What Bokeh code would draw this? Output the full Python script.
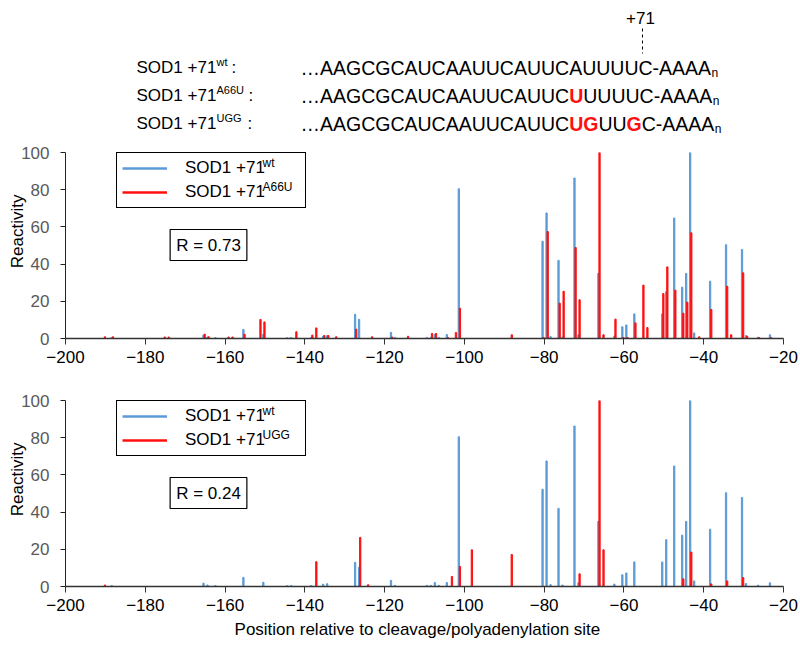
import numpy as np
from bokeh.plotting import figure
from bokeh.models import (Range1d, Label, ColumnDataSource, SingleIntervalTicker,
                          Legend, LegendItem)
from bokeh.layouts import column
from bokeh.core.properties import value
from bokeh.embed import file_html
from bokeh.resources import INLINE

FONT = "Liberation Sans"

# ---------------- data ----------------
wt_pos = [-188, -165, -164, -162, -155, -150, -144, -143, -138, -135, -134, -127, -126,
          -118, -117, -109, -108, -107, -106, -104, -101, -80, -79, -78, -76, -75, -72, -71,
          -66, -62, -60, -59, -57, -50, -49, -47, -45, -44, -43, -42, -38, -34, -30, -29, -26, -23]
wt_val = [0.5, 1.8, 0.8, 0.5, 4.9, 2.3, 0.5, 0.5, 0.5, 1.2, 1.5, 13.0, 10.3,
          3.3, 0.6, 0.6, 0.6, 2.1, 0.6, 2.1, 80.5, 52.3, 67.5, 1.0, 42.0, 0.8, 86.3, 2.0,
          35.0, 1.3, 6.3, 7.3, 13.2, 13.2, 25.2, 64.8, 27.6, 35.0, 100.0, 3.0, 30.8, 50.4, 47.9, 1.6, 0.7, 2.0]

a66u_pos = [-190, -188, -175, -174, -165, -164, -159, -158, -155, -151, -150, -142, -138, -137,
            -135, -134, -132, -127, -123, -118, -114, -108, -107, -104, -102, -101, -88, -80, -79,
            -76, -75, -72, -71, -66, -65, -62, -60, -59, -57, -55, -54, -50, -49, -47, -45, -44,
            -43, -41, -38, -34, -33, -30, -29, -26, -23]
a66u_val = [0.9, 0.9, 0.8, 0.8, 2.3, 0.9, 0.8, 0.8, 2.3, 10.2, 8.9, 3.6, 1.8, 5.7,
            1.6, 1.6, 0.9, 5.0, 0.9, 0.8, 1.2, 2.7, 2.7, 0.5, 3.2, 16.3, 2.0, 0.5, 57.5,
            19.0, 25.4, 48.9, 20.8, 100.0, 2.0, 10.4, 0.5, 0.5, 8.4, 28.7, 5.9, 24.2, 38.5, 26.0, 13.6, 19.5,
            56.8, 0.9, 15.6, 28.1, 2.0, 35.3, 1.2, 0.5, 0.5]

ugg_pos = [-190, -137, -126, -124, -103, -101, -98, -88, -71, -66, -65, -45, -43, -38, -34, -30]
ugg_val = [0.8, 13.3, 26.4, 0.9, 5.4, 10.8, 19.7, 17.2, 6.8, 100.0, 19.7, 4.1, 18.5, 1.4, 3.0, 4.8]

x_start, x_end, x_tick_step = -200, -20, 20
y_start, y_end, y_tick_step = 0, 100, 20

r_top = "R = 0.73"
r_bottom = "R = 0.24"
name_base = "SOD1 +71"
sup_wt, sup_a66u, sup_ugg = "wt", "A66U", "UGG"
x_title = "Position relative to cleavage/polyadenylation site"
y_title = "Reactivity"
site_label = "+71"

# sequences: list of (text, is_mutation)
seq_wt = [("AAGCGCAUCAAUUCAUUCAUUUUC-AAAA", False)]
seq_a66u = [("AAGCGCAUCAAUUCAUUC", False), ("U", True), ("UUUUC-AAAA", False)]
seq_ugg = [("AAGCGCAUCAAUUCAUUC", False), ("UG", True), ("UU", False), ("G", True), ("C-AAAA", False)]

BLUE = "#5B9BD5"
RED = "#FF1010"

W = 800
BL, BR = 65, 17          # left / right borders -> frame 65..783
FW = W - BL - BR         # 718

# ---------------- header ----------------
HH = 140
hdr = figure(width=W, height=HH, x_range=Range1d(BL, BL + FW), y_range=Range1d(HH, 0),
             output_backend="svg", toolbar_location=None,
             min_border_left=BL, min_border_right=BR, min_border_top=0, min_border_bottom=0,
             x_axis_location=None, y_axis_location=None)
hdr.grid.visible = False
hdr.outline_line_color = None

CW = {"A": 0.667, "C": 0.722, "G": 0.778, "U": 0.722, "-": 0.333, "\u2026": 1.0}
SEQ_FS = 19.5
rows_y = [67, 95, 123]
sups = [sup_wt, sup_a66u, sup_ugg]
colon_x = [231, 248, 247]
seqs = [seq_wt, seq_a66u, seq_ugg]

lab_x, lab_y, lab_t = [], [], []
sup_x, sup_y, sup_t = [], [], []
ch_x, ch_y, ch_t, ch_c, ch_s = [], [], [], [], []
sub_x, sub_y = [], []
for ry, sp, cx, sq in zip(rows_y, sups, colon_x, seqs):
    lab_x.append(136); lab_y.append(ry); lab_t.append(name_base)
    sup_x.append(216); sup_y.append(ry - 6); sup_t.append(sp)
    lab_x.append(cx); lab_y.append(ry); lab_t.append(":")
    x = 300.0
    chars = [("\u2026", False)] + [(c, m) for part, m in sq for c in part]
    for c, m in chars:
        ch_x.append(x); ch_y.append(ry); ch_t.append(c)
        ch_c.append(RED if m else "black"); ch_s.append("bold" if m else "normal")
        x += CW[c] * SEQ_FS
    sub_x.append(x + 0.5); sub_y.append(ry + 5)

hdr.text(x=lab_x, y=lab_y, text=lab_t, text_font=value(FONT), text_font_size="17px",
         text_baseline="middle", text_align="left", text_color="black")
hdr.text(x=sup_x, y=sup_y, text=sup_t, text_font=value(FONT), text_font_size="11px",
         text_baseline="middle", text_align="left", text_color="black")
src = ColumnDataSource(dict(x=ch_x, y=ch_y, t=ch_t, c=ch_c, s=ch_s))
hdr.text(x="x", y="y", text="t", text_color="c", text_font_style="s", source=src,
         text_font=value(FONT), text_font_size=f"{SEQ_FS}px", text_baseline="middle", text_align="left")
hdr.text(x=sub_x, y=sub_y, text=["n"] * 3, text_font=value(FONT), text_font_size="12px",
         text_baseline="middle", text_align="left", text_color="black")
hdr.text(x=[640], y=[17], text=[site_label], text_font=value(FONT), text_font_size="17px",
         text_baseline="middle", text_align="center", text_color="black")
hdr.segment(x0=[642], y0=[28], x1=[642], y1=[53], line_color="black",
            line_width=1, line_dash="3 3")

# ---------------- panels ----------------
FH = 186
XS = FW / (x_end - x_start)
YS = FH / (y_end - y_start)

def to_x(page_x):
    return x_start + (page_x - BL) / XS

def to_y(rel_y):  # rel_y: pixels below frame top
    return y_end - rel_y / YS

def panel(mut_pos, mut_val, sup_mut, r_text, btop, bbot, show_xtitle):
    p = figure(width=W, height=btop + FH + bbot, x_range=Range1d(x_start, x_end),
               y_range=Range1d(y_start, y_end), output_backend="svg", toolbar_location=None,
               min_border_left=BL, min_border_right=BR, min_border_top=btop, min_border_bottom=bbot)
    p.grid.visible = False
    p.outline_line_color = None

    p.vbar(x=np.array(wt_pos) - 0.4, top=wt_val, width=0.32, color=BLUE)
    p.vbar(x=np.array(mut_pos) - 0.12, top=mut_val, width=0.32, color=RED)

    p.xaxis.ticker = SingleIntervalTicker(interval=x_tick_step)
    p.yaxis.ticker = SingleIntervalTicker(interval=y_tick_step)
    for ax in (p.xaxis, p.yaxis):
        ax.major_label_text_font = FONT
        ax.major_label_text_font_size = "17px"
        ax.minor_tick_line_color = None
        ax.major_tick_in = 0
        ax.axis_label_text_font = FONT
        ax.axis_label_text_font_size = "17px"
        ax.axis_label_text_font_style = "normal"
        ax.axis_label_text_color = "black"
    p.xaxis.major_tick_out = 6
    p.xaxis.axis_line_color = "#333333"
    p.xaxis.axis_line_width = 1.5
    p.xaxis.major_tick_line_color = "#333333"
    p.xaxis.major_label_text_color = "black"
    p.xaxis.major_label_standoff = 6
    p.yaxis.major_tick_out = 5
    p.yaxis.axis_line_color = "#222222"
    p.yaxis.major_tick_line_color = "#222222"
    p.yaxis.major_label_text_color = "#595959"
    p.yaxis.major_label_standoff = 11
    p.yaxis.axis_label = "\u00a0" * 6 + y_title
    p.yaxis.axis_label_standoff = -9
    if show_xtitle:
        p.xaxis.axis_label = x_title + "\u00a0" * 3
        p.xaxis.axis_label_standoff = 6

    # legend (box top kept just inside the frame; transparent so superscripts show)
    r_b = p.line(x=[np.nan], y=[np.nan], line_color=BLUE, line_width=2.5)
    r_r = p.line(x=[np.nan], y=[np.nan], line_color=RED, line_width=2.5)
    leg = Legend(items=[LegendItem(label=name_base, renderers=[r_b]),
                        LegendItem(label=name_base, renderers=[r_r])],
                 location=(116 - BL, 130), orientation="vertical",
                 padding=5, spacing=4, margin=0, glyph_width=45, glyph_height=18,
                 label_height=18, label_width=115, label_standoff=18,
                 label_text_font=FONT, label_text_font_size="17px", label_text_color="black",
                 border_line_color="black", border_line_width=1.2, border_line_alpha=1,
                 background_fill_color="white", background_fill_alpha=0)
    p.add_layout(leg)
    for yy, sp in ((16, sup_wt), (40.6, sup_mut)):
        p.add_layout(Label(x=to_x(262), y=to_y(yy - 6), text=sp, text_font=FONT,
                           text_font_size="12px", text_baseline="middle", text_align="left",
                           text_color="black", level="overlay"))
    p.add_layout(Label(x=to_x(208), y=to_y(92.5), text=r_text, text_font=FONT,
                       text_font_size="17px", text_baseline="middle", text_align="center",
                       text_color="black",
                       border_line_color="black", border_line_width=1.2,
                       background_fill_color="white", padding=6))
    return p

top = panel(a66u_pos, a66u_val, sup_a66u, r_top, 12, 42, False)
bot = panel(ugg_pos, ugg_val, sup_ugg, r_bottom, 20, 60, True)

layout = column(hdr, top, bot, spacing=0)
open("out.html", "w").write(file_html(layout, INLINE))
